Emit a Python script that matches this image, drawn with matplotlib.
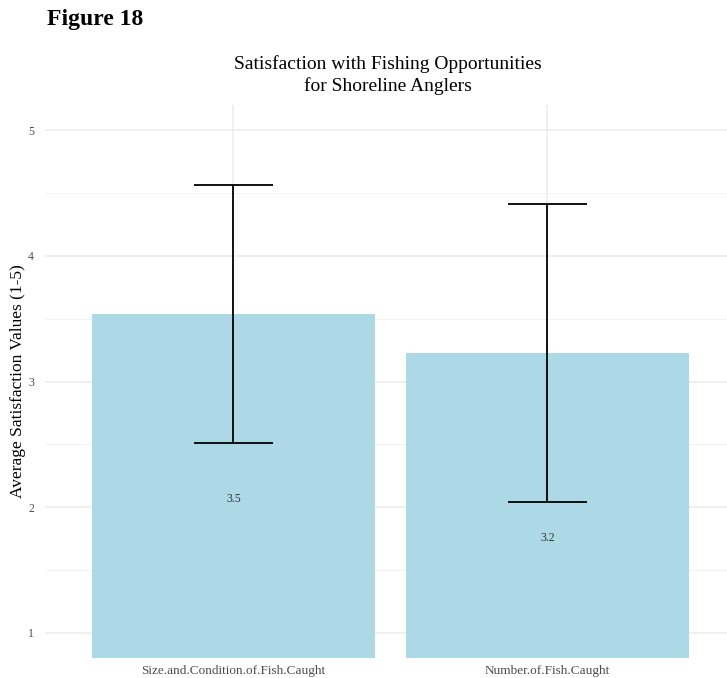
import matplotlib
matplotlib.use("Agg")
import matplotlib.pyplot as plt
from matplotlib.ticker import MultipleLocator

plt.rcParams['font.family'] = ['Liberation Serif', 'DejaVu Serif']

categories = ["Size.and.Condition.of.Fish.Caught", "Number.of.Fish.Caught"]
means = [3.537, 3.227]
sds = [1.026, 1.182]
labels = ["3.5", "3.2"]
label_offset = 1.47
title_lines = ["Satisfaction with Fishing Opportunities", "for Shoreline Anglers"]

fig = plt.figure(figsize=(7.27, 6.78), dpi=100)
ax = fig.add_axes([45/727, 20/678, 682/727, 553/678])

x = [1, 2]
ax.set_axisbelow(True)
ax.bar(x, means, width=0.9, color="#ADD8E6", bottom=0, zorder=2)
ax.errorbar(x, means, yerr=sds, fmt='none', ecolor='black', elinewidth=1.3,
            capsize=0, zorder=3)
for xi, m, s in zip(x, means, sds):
    ax.hlines([m - s, m + s], xi - 0.125, xi + 0.125, color='black', lw=1.3, zorder=3)
for xi, m, lab in zip(x, means, labels):
    ax.text(xi, m - label_offset, lab, ha='center', va='center', fontsize=8.5,
            color='#333333', zorder=4)

ax.set_xlim(0.4, 0.4 + 682/314)
ax.set_ylim(0.8, 5.2)
ax.set_xticks(x)
ax.set_xticklabels(categories, fontsize=9.5, color='#4d4d4d')
ax.yaxis.set_major_locator(MultipleLocator(1))
ax.yaxis.set_minor_locator(MultipleLocator(0.5))
ax.tick_params(axis='y', labelsize=8.5, labelcolor='#4d4d4d', length=0, pad=8, which='both')
ax.tick_params(axis='x', length=0, pad=5)
ax.grid(True, which='major', color='#ebebeb', lw=1.1)
ax.grid(True, which='minor', axis='y', color='#f2f2f2', lw=0.7)
for sp in ax.spines.values():
    sp.set_visible(False)

ax.set_ylabel("Average Satisfaction Values (1-5)", fontsize=12.5)
ax.yaxis.set_label_coords((26 - 45) / 682, 0.5)
fig.text(388/727, 1 - 64/678, title_lines[0], ha='center', va='center', fontsize=14)
fig.text(388/727, 1 - 86/678, title_lines[1], ha='center', va='center', fontsize=14)
fig.text(47/727, 1 - 20/678, "Figure 18", ha='left', va='center', fontsize=17, fontweight='bold')

fig.savefig("out.png", dpi=100)
